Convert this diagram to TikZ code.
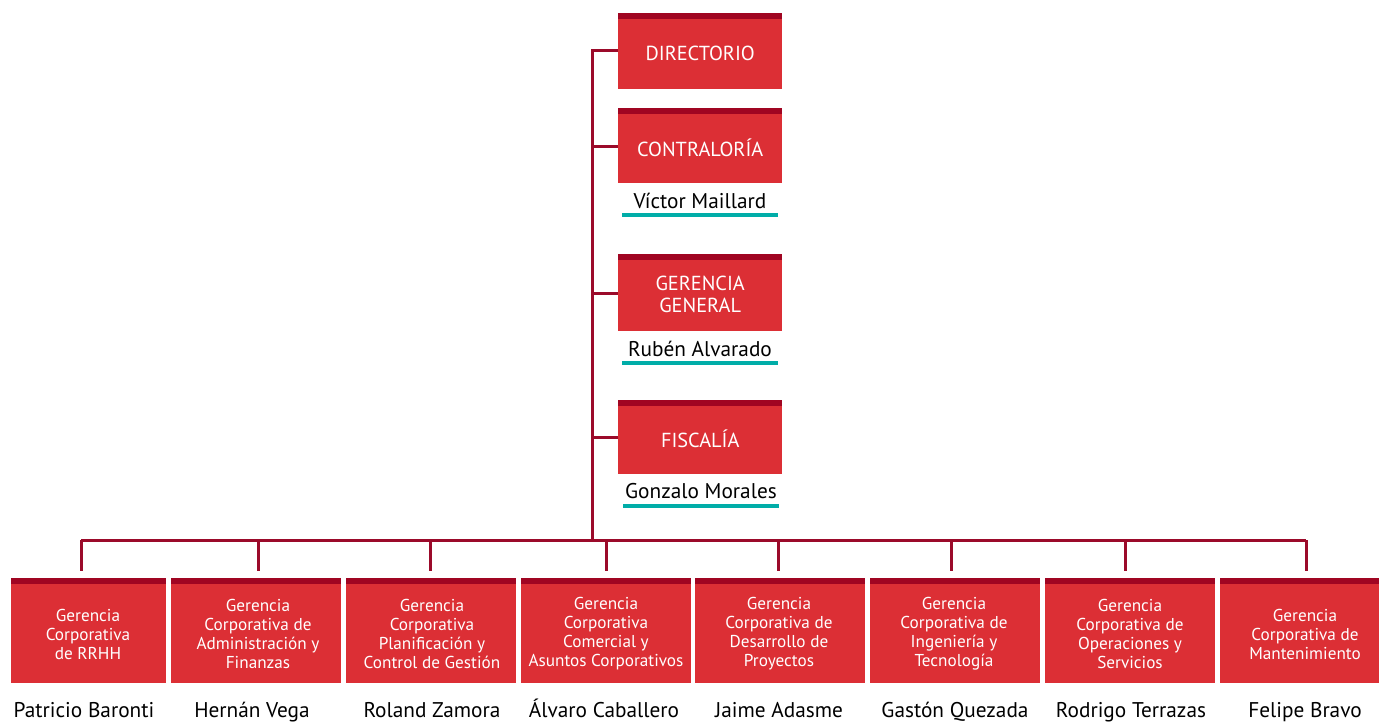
\documentclass[tikz,border=0pt]{standalone}
\usepackage{fontspec}
\setmainfont{PT Sans}
\definecolor{boxred}{HTML}{DC2F35}
\definecolor{stripred}{HTML}{A00522}
\definecolor{linered}{HTML}{9B0A2A}
\definecolor{teal}{HTML}{00ADA8}
\begin{document}
\begin{tikzpicture}[x=1pt,y=-1pt,
  topbox/.style={fill=boxred,draw=none,minimum width=164pt,minimum height=#1,anchor=north west,inner sep=0pt,
     path picture={\fill[stripred] (path picture bounding box.north west) rectangle ([yshift=-6pt]path picture bounding box.north east);}},
  botbox/.style={fill=boxred,draw=none,minimum height=105pt,anchor=north west,inner sep=0pt,
     path picture={\fill[stripred] (path picture bounding box.north west) rectangle ([yshift=-6pt]path picture bounding box.north east);}},
  tt/.style={text=white,font=\fontsize{20.3}{22}\selectfont,align=center,inner sep=0pt},
  bt/.style={text=white,font=\fontsize{17.2}{19}\selectfont,align=center,inner sep=0pt},
  nm/.style={font=\fontsize{21.3}{23}\selectfont,text=black,inner sep=0pt,text height=15pt,text depth=5pt},
  conn/.style={draw=linered,line width=3pt},
  ul/.style={draw=teal,line width=4.5pt}]
\useasboundingbox (0,0) rectangle (1379,725);
% top boxes
\node[topbox=76pt] (dir) at (618,13) {};
\node[tt] (dirt) at ([yshift=-2pt]dir.center) {DIRECTORIO};
\node[topbox=75pt] (con) at (618,108) {};
\node[tt] (cont) at ([yshift=-2pt]con.center) {CONTRALORÍA};
\node[topbox=77pt] (gg) at (618,254) {};
\node[tt] (ggt) at ([yshift=-2pt]gg.center) {GERENCIA\\GENERAL};
\node[topbox=74pt] (fis) at (618,400) {};
\node[tt] (fist) at ([yshift=-2pt]fis.center) {FISCALÍA};
% names top
\node[nm] (n1) at (700,203) {Víctor Maillard};
\node[nm] (n2) at (700,351) {Rubén Alvarado};
\node[nm] (n3) at (701,493) {Gonzalo Morales};
\coordinate (u1a) at (622,215); \coordinate (u1b) at (778,215);
\coordinate (u2a) at (622,363); \coordinate (u2b) at (778,363);
\coordinate (u3a) at (623,506); \coordinate (u3b) at (779,506);
\draw[ul] (u1a) -- (u1b);
\draw[ul] (u2a) -- (u2b);
\draw[ul] (u3a) -- (u3b);
% trunk
\coordinate (t0) at (592,51);
\coordinate (bus) at (592,540);
\draw[conn] (dir.west |- 0,51) -- (t0) -- (bus);
\draw[conn] (con.west |- 0,146) -- (592,146);
\draw[conn] (gg.west |- 0,293) -- (592,293);
\draw[conn] (fis.west |- 0,437) -- (592,437);
% bottom boxes
\node[botbox,minimum width=155pt] (b1) at (11,578) {};
\node[botbox,minimum width=170pt] (b2) at (171,578) {};
\node[botbox,minimum width=170pt] (b3) at (346,578) {};
\node[botbox,minimum width=170pt] (b4) at (521,578) {};
\node[botbox,minimum width=170pt] (b5) at (695,578) {};
\node[botbox,minimum width=170pt] (b6) at (870,578) {};
\node[botbox,minimum width=170pt] (b7) at (1045,578) {};
\node[botbox,minimum width=159pt] (b8) at (1220,578) {};
\node[bt] at (88,634) {Gerencia\\Corporativa\\de RRHH};
\node[bt] at (258,634) {Gerencia\\Corporativa de\\Administración y\\Finanzas};
\node[bt] at (432,634) {Gerencia\\Corporativa\\Planificación y\\Control de Gestión};
\node[bt] at (606,634) {Gerencia\\Corporativa\\Comercial y\\Asuntos Corporativos};
\node[bt] at (779,634) {Gerencia\\Corporativa de\\Desarrollo de\\Proyectos};
\node[bt] at (954,634) {Gerencia\\Corporativa de\\Ingeniería y\\Tecnología};
\node[bt] at (1130,634) {Gerencia\\Corporativa de\\Operaciones y\\Servicios};
\node[bt] at (1305,634) {Gerencia\\Corporativa de\\Mantenimiento};
% bus
\coordinate (d1) at (81,540); \coordinate (d8) at (1306,540);
\draw[conn] (d1) -- (d8);
\foreach \x in {81,258,430,606,778,951,1125,1306}
  \draw[conn] (\x,540) -- (\x,571);
% names bottom
\node[nm] at (84,712) {Patricio Baronti};
\node[nm] at (252,712) {Hernán Vega};
\node[nm] at (432,712) {Roland Zamora};
\node[nm] at (604,712) {Álvaro Caballero};
\node[nm] at (779,712) {Jaime Adasme};
\node[nm] at (955,712) {Gastón Quezada};
\node[nm] at (1131,712) {Rodrigo Terrazas};
\node[nm] at (1305,712) {Felipe Bravo};
\end{tikzpicture}
\end{document}
